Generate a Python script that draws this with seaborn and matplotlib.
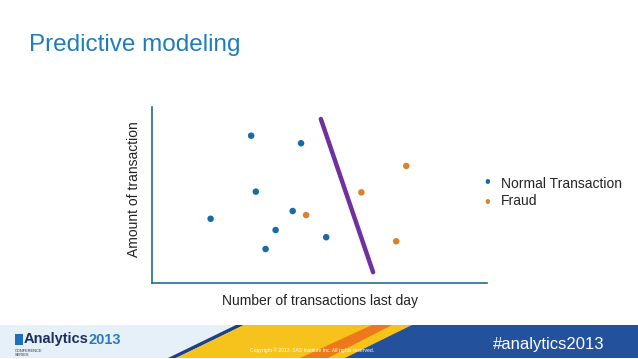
import numpy as np
import pandas as pd
import matplotlib
matplotlib.use("Agg")
import matplotlib.pyplot as plt
from matplotlib.patches import Polygon, Rectangle
import seaborn as sns

# data (axis units 0-10)
normal_x = [2.96, 4.45, 3.10, 1.75, 4.20, 3.69, 3.39, 5.20]
normal_y = [8.37, 7.94, 5.19, 3.65, 4.09, 3.01, 1.93, 2.60]
fraud_x = [4.60, 6.25, 7.59, 7.29]
fraud_y = [3.86, 5.15, 6.65, 2.37]
boundary_x = [5.04, 6.60]
boundary_y = [9.32, 0.61]
classes = ['Normal Transaction', 'Fraud']

blue = '#1a6aa3'
orange = '#d8812e'
purple = '#7030a0'

df = pd.DataFrame({
    'x': normal_x + fraud_x,
    'y': normal_y + fraud_y,
    'kind': [classes[0]] * len(normal_x) + [classes[1]] * len(fraud_x),
})

sns.set_theme(style="white")
plt.rcParams['font.family'] = ['Liberation Sans', 'DejaVu Sans']

fig = plt.figure(figsize=(6.38, 3.59), dpi=100)
fig.patch.set_facecolor('white')

# title
fig.text(29 / 638, 1 - 45 / 359, 'Predictive modeling', color='#1f7cbd',
         fontsize=17.5, va='center', ha='left')

# main chart
ax = fig.add_axes([152 / 638, 76 / 359, 335 / 638, 176 / 359])
ax.plot(boundary_x, boundary_y, color=purple, lw=3.2, solid_capstyle='round', zorder=1)
sns.scatterplot(data=df, x='x', y='y', hue='kind', palette=[blue, orange],
                s=22, edgecolor='none', ax=ax, legend=False, zorder=2)
ax.set_xlim(0, 10)
ax.set_ylim(0, 10)
ax.set_xticks([])
ax.set_yticks([])
for side in ['top', 'right']:
    ax.spines[side].set_visible(False)
for side in ['left', 'bottom']:
    ax.spines[side].set_color('#1f6f8f')
    ax.spines[side].set_linewidth(1.2)
ax.set_facecolor('white')
ax.set_xlabel('Number of transactions last day', fontsize=10, color='#222222')
ax.set_ylabel('Amount of transaction', fontsize=10, color='#222222')
ax.xaxis.set_label_coords(0.5, -0.06)
ax.yaxis.set_label_coords(-0.033, 0.535)

# legend
fig.text(487 / 638, 1 - 182 / 359, '\u2022', color=blue, fontsize=12, ha='center', va='center')
fig.text(487 / 638, 1 - 203 / 359, '\u2022', color=orange, fontsize=12, ha='center', va='center')
fig.text(501 / 638, 1 - 184 / 359, classes[0], fontsize=10, color='#222222', va='center')
fig.text(501 / 638, 1 - 201 / 359, classes[1], fontsize=10, color='#222222', va='center')

# footer banner
fx = fig.add_axes([0, 0, 1, 36 / 359])
fx.set_xlim(0, 638)
fx.set_ylim(0, 36)
fx.axis('off')
fx.add_patch(Rectangle((0, 1), 638, 33, color='#e6f0f8', lw=0))
fx.add_patch(Polygon([[168, 1], [236, 34], [244, 34], [176, 1]], color='#1d3f86', lw=0))
fx.add_patch(Polygon([[176, 1], [244, 34], [420, 34], [350, 1]], color='#f6c21c', lw=0))
fx.add_patch(Polygon([[300, 1], [372, 34], [392, 34], [328, 1]], color='#ec7a1c', lw=0))
fx.add_patch(Polygon([[345, 1], [412, 34], [638, 34], [638, 1]], color='#23519b', lw=0))
fx.add_patch(Rectangle((15, 14), 8, 11, color='#1f6fbd', lw=0))
logo = fx.text(24, 19.5, 'Analytics', fontsize=10.5, fontweight='bold', color='#1c2e5e',
               va='center')
fx.annotate('2013', xy=(1, 0.5), xycoords=logo, fontsize=10.5, fontweight='bold',
            color='#2c78c8', va='center', ha='left')
fx.text(15, 8.5, 'CONFERENCE', fontsize=2.8, color='#333333', va='center')
fx.text(15, 4.5, 'SERIES', fontsize=2.8, color='#333333', va='center')
fx.text(250, 9, 'Copyright \u00a9 2013, SAS Institute Inc. All rights reserved.',
        fontsize=3.6, color='white', va='center')
fx.text(493, 14, '#analytics2013', fontsize=12, color='white', va='center')

fig.savefig('out.png', dpi=100, facecolor='white')
